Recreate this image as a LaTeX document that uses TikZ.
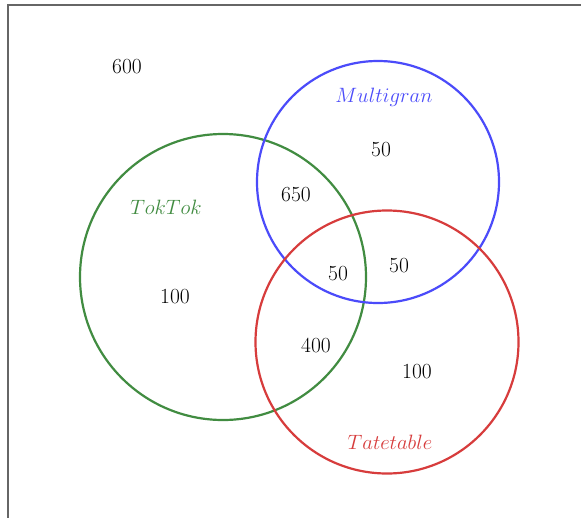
\documentclass[tikz,border=0pt]{standalone}
\begin{document}
\begin{tikzpicture}[x=1pt,y=-1pt,
  vcirc/.style={line width=2.2pt},
  lbl/.style={font=\fontsize{21.5}{26}\selectfont, inner sep=0pt},
  setname/.style={font=\fontsize{21}{26}\selectfont, inner sep=0pt}]
\definecolor{tgreen}{RGB}{65,140,65}
\definecolor{tblue}{RGB}{75,75,250}
\definecolor{tred}{RGB}{215,60,60}
\useasboundingbox (0,0) rectangle (581,517);
\clip (0,0) rectangle (581,517);
\fill[white] (0,0) rectangle (581,517);
\draw[black!60, line width=2.6pt] (8,5) rectangle (620,560);
% circles
\draw[vcirc, tgreen] (223,277) circle (143);
\draw[vcirc, tblue] (378,182) circle (121);
\draw[vcirc, tred] (387,342) circle (131.5);
% set names
\node[setname, text=tgreen] (ntok) at (166,207) {$TokTok$};
\node[setname, text=tblue] (nmul) at (384,97) {$Multigran$};
\node[setname, text=tred] (ntat) at (390,442) {$Tatetable$};
% counts
\node[lbl] (n600) at (127,67) {600};
\node[lbl] (nm) at (381,150) {50};
\node[lbl] (ntm) at (296,195) {650};
\node[lbl] (nall) at (338,274) {50};
\node[lbl] (nmt) at (399,266) {50};
\node[lbl] (nt) at (175,297) {100};
\node[lbl] (ntt) at (316,345) {400};
\node[lbl] (nta) at (417,372) {100};
\end{tikzpicture}
\end{document}
